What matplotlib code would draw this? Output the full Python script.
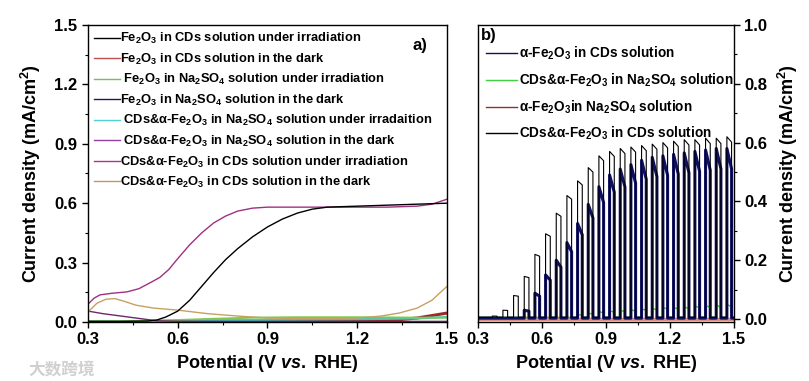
import numpy as np
import matplotlib
matplotlib.use("Agg")
import matplotlib.pyplot as plt
from matplotlib.ticker import MultipleLocator

plt.rcParams['font.family'] = ['Liberation Sans', 'DejaVu Sans']
plt.rcParams['font.weight'] = 'bold'
plt.rcParams['mathtext.fontset'] = 'custom'
plt.rcParams['mathtext.rm'] = 'Liberation Sans:bold'
plt.rcParams['mathtext.it'] = 'Liberation Sans:italic:bold'
plt.rcParams['mathtext.bf'] = 'Liberation Sans:bold'
plt.rcParams['mathtext.default'] = 'rm'

# ---- panel a: LSV curves ----
black_v = [0.30, 0.40, 0.50, 0.53, 0.56, 0.60, 0.64, 0.68, 0.72, 0.76, 0.80, 0.85,
           0.90, 0.95, 1.00, 1.05, 1.10, 1.20, 1.30, 1.40, 1.50]
black_j = [0.003, 0.003, 0.005, 0.01, 0.025, 0.055, 0.11, 0.18, 0.25, 0.315, 0.37, 0.43,
           0.48, 0.52, 0.55, 0.57, 0.58, 0.585, 0.59, 0.595, 0.60]
red_v = [0.30, 0.60, 0.80, 1.00, 1.20, 1.30, 1.40, 1.50]
red_j = [0.002, 0.002, 0.003, 0.003, 0.004, 0.006, 0.02, 0.045]
green_v = [0.30, 0.50, 0.60, 0.70, 0.85, 1.00, 1.20, 1.40, 1.50]
green_j = [0.003, 0.005, 0.01, 0.015, 0.022, 0.024, 0.024, 0.022, 0.022]
navy_v = [0.30, 0.50, 0.80, 1.10, 1.50]
navy_j = [0.002, 0.002, 0.002, 0.002, 0.002]
cyan_v = [0.30, 0.55, 0.70, 0.80, 1.00, 1.20, 1.40, 1.50]
cyan_j = [0.003, 0.006, 0.009, 0.01, 0.012, 0.014, 0.018, 0.025]
purple_v = [0.30, 0.35, 0.40, 0.45, 0.50, 0.53, 0.60, 0.80, 1.00, 1.20, 1.50]
purple_j = [0.055, 0.042, 0.032, 0.022, 0.012, 0.006, 0.004, 0.003, 0.003, 0.003, 0.003]
magenta_v = [0.30, 0.32, 0.34, 0.38, 0.43, 0.47, 0.51, 0.54, 0.57, 0.60, 0.64, 0.68,
             0.72, 0.76, 0.80, 0.85, 0.90, 1.00, 1.10, 1.20, 1.30, 1.40, 1.45, 1.50]
magenta_j = [0.09, 0.12, 0.137, 0.145, 0.152, 0.168, 0.20, 0.225, 0.265, 0.32, 0.39, 0.45,
             0.50, 0.535, 0.56, 0.575, 0.58, 0.58, 0.58, 0.58, 0.58, 0.585, 0.595, 0.62]
tan_v = [0.30, 0.33, 0.36, 0.39, 0.42, 0.46, 0.52, 0.60, 0.70, 0.80, 0.90, 1.00,
         1.10, 1.20, 1.28, 1.34, 1.40, 1.45, 1.50]
tan_j = [0.05, 0.095, 0.115, 0.118, 0.105, 0.085, 0.07, 0.06, 0.042, 0.03, 0.02, 0.018,
         0.018, 0.02, 0.03, 0.045, 0.07, 0.11, 0.18]

labels_a = [
    "Fe$_2$O$_3$ in CDs solution under irradiation",
    "Fe$_2$O$_3$ in CDs solution in the dark",
    " Fe$_2$O$_3$ in Na$_2$SO$_4$ solution under irradiation",
    "Fe$_2$O$_3$ in Na$_2$SO$_4$ solution in the dark",
    " CDs&α-Fe$_2$O$_3$ in Na$_2$SO$_4$ solution under irradaition",
    " CDs&α-Fe$_2$O$_3$ in Na$_2$SO$_4$ solution in the dark",
    "CDs&α-Fe$_2$O$_3$ in CDs solution under irradiation",
    "CDs&α-Fe$_2$O$_3$ in CDs solution in the dark",
]

# ---- panel b: chopped light ----
chop_on = [0.367, 0.417, 0.467, 0.517, 0.567, 0.617, 0.667, 0.717, 0.767, 0.817, 0.867,
           0.917, 0.967, 1.017, 1.067, 1.117, 1.167, 1.217, 1.267, 1.317, 1.367, 1.417, 1.467]
cds_peak = [0.01, 0.03, 0.08, 0.145, 0.22, 0.29, 0.36, 0.42, 0.47, 0.515, 0.555,
            0.57, 0.58, 0.585, 0.59, 0.595, 0.60, 0.605, 0.61, 0.61, 0.615, 0.615, 0.62]
fe_peak = [0.0, 0.0, 0.0, 0.03, 0.088, 0.15, 0.20, 0.26, 0.325, 0.39, 0.45,
           0.49, 0.51, 0.525, 0.54, 0.55, 0.555, 0.56, 0.565, 0.57, 0.575, 0.58, 0.58]
na_peak = [0.0, 0.0, 0.0, 0.0, 0.0, 0.0, 0.0, 0.005, 0.015, 0.02, 0.025,
           0.028, 0.03, 0.032, 0.035, 0.037, 0.04, 0.04, 0.042, 0.045, 0.047, 0.048, 0.05]
labels_b = ["α-Fe$_2$O$_3$ in CDs solution",
            "CDs&α-Fe$_2$O$_3$ in Na$_2$SO$_4$ solution",
            "α-Fe$_2$O$_3$in Na$_2$SO$_4$ solution",
            "CDs&α-Fe$_2$O$_3$ in CDs solution"]


def chopped(on, peaks, base, width, decay):
    v, j = [0.3], [base]
    for x, p in zip(on, peaks):
        top = max(p, base)
        v += [x, x, x + width, x + width]
        j += [base, top, base + (top - base) * decay, base]
    v.append(1.5)
    j.append(base)
    return v, j


fig = plt.figure(figsize=(8.09, 3.81), dpi=100)
ax = fig.add_axes([0.1088, 0.1549, 0.4437, 0.7795])
bx = fig.add_axes([0.5908, 0.1549, 0.3164, 0.7795])

ax.plot(red_v, red_j, color='#a02828', lw=2.2)
ax.plot(navy_v, navy_j, color='#1a1a5a', lw=2.2)
ax.plot(cyan_v, cyan_j, color='#40c8c8', lw=1.6)
ax.plot(green_v, green_j, color='#80c850', lw=1.4)
ax.plot(purple_v, purple_j, color='#6a2a6a', lw=1.0)
ax.plot(tan_v, tan_j, color='#c8a060', lw=1.0)
ax.plot(magenta_v, magenta_j, color='#a03080', lw=1.0)
ax.plot(black_v, black_j, color='black', lw=1.0)

leg_colors = ['black', '#c05050', '#70c060', '#1a1a5a', '#50d0d0', '#9040a0', '#b03090', '#c09860']
handles = [plt.Line2D([], [], color=c, lw=1.0) for c in leg_colors]
ax.legend(handles, labels_a, loc='upper left', bbox_to_anchor=(-0.005, 1.005), frameon=False,
          fontsize=9.3, handlelength=2.0, handletextpad=0.05, labelspacing=0.42,
          borderaxespad=0.2)
ax.text(0.905, 0.955, "a)", transform=ax.transAxes, fontsize=12, fontweight='bold',
        ha='left', va='top')

ax.set_xlim(0.3, 1.5)
ax.set_ylim(0.0, 1.5)
ax.xaxis.set_minor_locator(MultipleLocator(0.15))
ax.yaxis.set_minor_locator(MultipleLocator(0.15))
ax.set_xticks([0.3, 0.6, 0.9, 1.2, 1.5])
ax.set_xticklabels(['0.3', '0.6', '0.9', '1.2', '1.5'])
ax.set_yticks([0.0, 0.3, 0.6, 0.9, 1.2, 1.5])
ax.set_yticklabels(['0.0', '0.3', '0.6', '0.9', '1.2', '1.5'])
ax.set_xlabel("Potential (V $\\it{vs.}$ RHE)", fontsize=13, fontweight='bold', labelpad=4)
ax.set_ylabel("Current density (mA/cm$^2$)", fontsize=13, fontweight='bold', labelpad=8)

# panel b
rv, rj = [0.3, 1.5], [0.0, 0.0]
bx.plot(rv, rj, color='#d89080', lw=2.5)
gv, gj = chopped(chop_on, na_peak, 0.006, 0.022, 0.8)
bx.plot(gv, gj, color='#40d040', lw=1.0)
nv, nj = chopped(chop_on, fe_peak, 0.003, 0.022, 0.88)
bx.plot(nv, nj, color='#101060', lw=2.2)
cv, cj = chopped(chop_on, cds_peak, 0.006, 0.022, 0.97)
bx.plot(cv, cj, color='black', lw=0.8)

hb = [plt.Line2D([], [], color=c, lw=1.0) for c in ['#101060', '#40d040', '#903030', 'black']]
bx.legend(hb, labels_b, loc='upper left', bbox_to_anchor=(0.0, 0.96), frameon=False,
          fontsize=9.8, handlelength=2.3, handletextpad=0.1, labelspacing=0.68,
          borderaxespad=0.2)
bx.text(0.01, 0.99, "b)", transform=bx.transAxes, fontsize=12, fontweight='bold',
        ha='left', va='top')

bx.set_xlim(0.3, 1.5)
bx.set_ylim(-0.01, 1.0)
bx.set_xticks([0.3, 0.6, 0.9, 1.2, 1.5])
bx.set_xticklabels(['0.3', '0.6', '0.9', '1.2', '1.5'])
bx.xaxis.set_minor_locator(MultipleLocator(0.15))
bx.yaxis.tick_right()
bx.yaxis.set_label_position('right')
bx.set_yticks([0.0, 0.2, 0.4, 0.6, 0.8, 1.0])
bx.set_yticklabels(['0.0', '0.2', '0.4', '0.6', '0.8', '1.0'])
bx.yaxis.set_minor_locator(MultipleLocator(0.1))
bx.set_xlabel("Potential (V $\\it{vs.}$ RHE)", fontsize=13, fontweight='bold', labelpad=4)
bx.set_ylabel("Current density (mA/cm$^2$)", fontsize=13, fontweight='bold', labelpad=6)

for a in (ax, bx):
    a.tick_params(which='major', direction='out', length=4, width=1, labelsize=12)
    a.tick_params(which='minor', direction='out', length=2.5, width=0.8)
    for s in a.spines.values():
        s.set_linewidth(1.0)
    for t in a.get_xticklabels() + a.get_yticklabels():
        t.set_fontweight('bold')

fig.text(0.035, 0.018, "大数跨境", fontsize=12, color='#d0d0d0',
         family=['Noto Sans CJK SC', 'DejaVu Sans'])

fig.savefig('out.png', dpi=100)
